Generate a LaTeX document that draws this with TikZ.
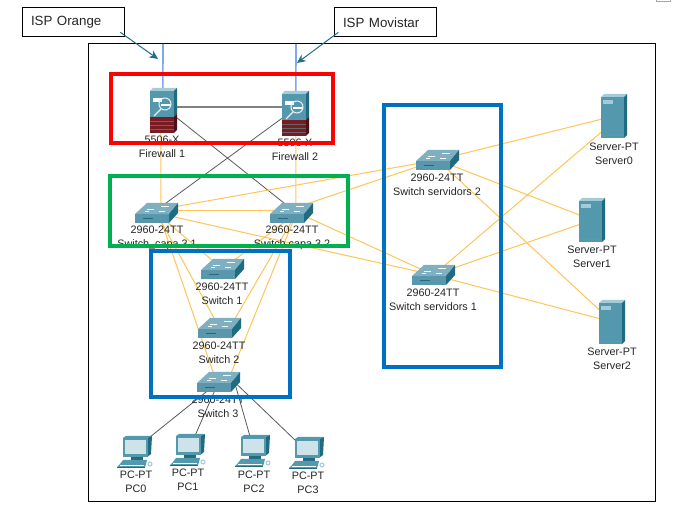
\documentclass[tikz,border=0pt]{standalone}
\usepackage{fontspec}
\setmainfont{Liberation Sans}
\usetikzlibrary{arrows.meta}
\definecolor{swfront}{HTML}{5B97AC}
\definecolor{swtop}{HTML}{7FB0C2}
\definecolor{swside}{HTML}{1F6B82}
\definecolor{srvfront}{HTML}{5498AE}
\definecolor{srvtop}{HTML}{A5CBD8}
\definecolor{brick}{HTML}{7A1A22}
\definecolor{brickside}{HTML}{4F0F16}
\definecolor{orangelink}{HTML}{FFC555}
\definecolor{greylink}{HTML}{5A5A5A}
\definecolor{bluelink}{HTML}{7FA8F0}
\definecolor{arrowblue}{HTML}{1F6E8C}
\definecolor{frred}{HTML}{FF0000}
\definecolor{frgreen}{HTML}{00B050}
\definecolor{frblue}{HTML}{0070C0}
\tikzset{
  every node/.style={inner sep=0pt,outer sep=0pt},
  lab/.style={font=\fontsize{8.1pt}{9pt}\selectfont,text=black!85,align=center},
  isp/.style={draw=black,line width=0.75pt,fill=white,minimum height=21.5pt,text width=77pt,align=left,font=\fontsize{10pt}{12pt}\selectfont,text=black!85},
  swbox/.style={minimum width=32.25pt,minimum height=15pt},
  fwbox/.style={minimum width=20pt,minimum height=33.75pt},
  srvbox/.style={minimum width=20pt,minimum height=33pt},
  pcbox/.style={minimum width=28.5pt,minimum height=23.25pt},
  olink/.style={draw=orangelink,line width=0.75pt},
  dlink/.style={draw=greylink,line width=0.6pt},
  frame/.style={draw,line width=3pt},
  callout/.style={draw=arrowblue,line width=0.75pt,-{Stealth[length=6.5pt,width=6pt]}},
  swicon/.pic={
    \fill[swfront] (0,11) rectangle (34,20);
    \fill[swtop] (0,11) -- (12,0) -- (43,0) -- (34,11) -- cycle;
    \fill[swside] (34,11) -- (43,0) -- (43,10) -- (34,20) -- cycle;
    \draw[white,line width=0.5pt] (12,6) -- (19,6) (26,3) -- (34,3) (10,8) -- (14,8) (24,8) -- (30,8);
    \draw[swside,line width=0.4pt] (8,15) -- (18,15);
  },
  fwicon/.pic={
    \fill[srvfront] (0,3) rectangle (24,29);
    \fill[srvtop] (0,3) -- (3,0) -- (27,0) -- (24,3) -- cycle;
    \fill[swside] (24,3) -- (27,0) -- (27,26) -- (24,29) -- cycle;
    \fill[brick] (0,29) rectangle (24,45);
    \fill[brickside] (24,29) -- (27,26) -- (27,42) -- (24,45) -- cycle;
    \draw[black!60,line width=0.3pt] (0,33) -- (24,33) (0,37) -- (24,37) (0,41) -- (24,41);
    \fill[white] (3,10) rectangle (12,14);
    \draw[white,line width=1.6pt] (11,17) -- (21,17);
    \draw[white!85!gray,line width=0.8pt] (15,16) circle (6);
    \draw[white!85!gray,line width=1pt] (11,21) -- (4,28);
  },
  srvicon/.pic={
    \fill[srvfront] (0,3) rectangle (23,44);
    \fill[srvtop] (0,3) -- (3,0) -- (26,0) -- (23,3) -- cycle;
    \fill[swside] (23,3) -- (26,0) -- (26,41) -- (23,44) -- cycle;
    \fill[srvtop] (2,6) rectangle (12,10);
    \draw[swside!70,line width=0.4pt] (0,41) -- (23,41);
  },
  pcicon/.pic={
    \fill[swside] (30,2) -- (35,0) -- (34,18) -- (30,21) -- cycle;
    \fill[srvfront] (6,2) -- (30,2) -- (35,0) -- (9,0) -- cycle;
    \fill[srvfront] (6,2) rectangle (31,21);
    \fill[srvtop!55] (8,4) rectangle (29,18);
    \fill[swside] (14,21) rectangle (26,24);
    \fill[srvfront] (6,24) -- (30,24) -- (29,28) -- (3,28) -- cycle;
    \fill[srvfront] (3,28) -- (29,28) -- (28,31) -- (0,31) -- cycle;
    \draw[white,line width=0.5pt] (3,29) -- (27,29);
    \draw[swside,line width=0.5pt] (0,31.5) -- (28,31.5);
    \draw[srvtop,line width=0.8pt] (33,28) circle (2);
  },
}
\newcommand{\lnk}[5][olink]{\draw[#1] ([shift={(#3)}]#2.center) -- ([shift={(#5)}]#4.center);}
\begin{document}
\begin{tikzpicture}[x=0.75pt,y=-0.75pt]
\useasboundingbox (0,0) rectangle (696,523);
\fill[white] (0,0) rectangle (696,523);
% sliver of a box at the top edge
\draw[black!35,line width=0.75pt] (656.5,-4) rectangle (670.5,1.5);
% frame
\node[draw=black,line width=0.75pt,minimum width=425.25pt,minimum height=343.5pt,anchor=north west] (outer) at (88,44) {};
% devices (geometry holders)
\node[fwbox,anchor=north west] (f1) at (150,88) {};
\node[fwbox,anchor=north west] (f2) at (282,91) {};
\node[swbox,anchor=north west] (s31) at (135,203) {};
\node[swbox,anchor=north west] (s32) at (270,203) {};
\node[swbox,anchor=north west] (s1) at (201,259) {};
\node[swbox,anchor=north west] (s2) at (198,318) {};
\node[swbox,anchor=north west] (s3) at (197,372) {};
\node[swbox,anchor=north west] (ss2) at (416,150) {};
\node[swbox,anchor=north west] (ss1) at (412,265) {};
\node[srvbox,anchor=north west] (sv0) at (601,94) {};
\node[srvbox,anchor=north west] (sv1) at (579,198) {};
\node[srvbox,anchor=north west] (sv2) at (599,300) {};
\node[pcbox,anchor=north west] (pc0) at (117,436) {};
\node[pcbox,anchor=north west] (pc1) at (170,434) {};
\node[pcbox,anchor=north west] (pc2) at (235,435) {};
\node[pcbox,anchor=north west] (pc3) at (289,437) {};
\coordinate (wan1) at (163,44);
\coordinate (wan2) at (296,44);
% links
\draw[draw=bluelink,line width=1.2pt] (wan1) -- ([shift={(-0.5,-3)}]f1.center);
\draw[draw=bluelink,line width=1.2pt] (wan2) -- ([shift={(0.5,-3)}]f2.center);
\draw[draw=gray,line width=1.3pt] ([shift={(0,-3.5)}]f1.center) -- ([shift={(0,-6.5)}]f2.center);
\lnk[dlink]{f1}{0,-3.5}{s32}{0,-4}
\lnk[dlink]{f2}{0,-5}{s31}{0,-3}
\lnk{f1}{-2.5,0}{s31}{4.5,0}
\lnk{f2}{0.5,0}{s32}{4.5,0}
\lnk{s31}{0,-2}{s32}{0,-2}
\lnk{s31}{0,-3}{ss2}{0,0}
\lnk{s32}{0,-4}{ss2}{0,0}
\lnk{s31}{0,0}{ss1}{0,0}
\lnk{s32}{0,-3}{ss1}{0,0}
\lnk{s31}{0,0}{s1}{0,0}
\lnk{s31}{0,0}{s2}{0,0}
\lnk{s31}{2,0}{s3}{-2,0}
\lnk{s32}{5,0}{s1}{0,0}
\lnk{s32}{5,0}{s2}{10,0}
\lnk{s32}{5,0}{s3}{9,0}
\lnk{ss2}{0,0}{sv0}{0,0}
\lnk{ss2}{0,0}{sv1}{0,0}
\lnk{ss2}{0,0}{sv2}{0,0}
\lnk{ss1}{0,0}{sv0}{0,5}
\lnk{ss1}{0,0}{sv1}{0,0}
\lnk{ss1}{0,0}{sv2}{0,0}
\lnk[dlink]{s3}{0,0}{pc0}{-4,0}
\lnk[dlink]{s3}{0,0}{pc1}{0,0}
\lnk[dlink]{s3}{16,0}{pc2}{0,0}
\lnk[dlink]{s3}{16,0}{pc3}{0,0}
% icons
\foreach \n in {s31,s32,s1,s2,s3,ss2,ss1} \pic at (\n.north west) {swicon};
\foreach \n in {f1,f2} \pic at (\n.north west) {fwicon};
\foreach \n in {sv0,sv1,sv2} \pic at (\n.north west) {srvicon};
\foreach \n in {pc0,pc1,pc2,pc3} \pic at (\n.north west) {pcicon};
% labels
\node[lab] (lf1) at (162,147) {5506-X\\[1.5pt]Firewall 1};
\node[lab] (lf2) at (295,150) {5506-X\\[1.5pt]Firewall 2};
\node[lab] (l31) at (157,238) {2960-24TT\\[1.5pt]Switch\_capa 3.1};
\node[lab] (l32) at (292,238) {2960-24TT\\[1.5pt]Switch capa 3.2};
\node[lab] (l1) at (222,294) {2960-24TT\\[1.5pt]Switch 1};
\node[lab] (l2) at (219,353) {2960-24TT\\[1.5pt]Switch 2};
\node[lab] (l3) at (218,407) {2960-24TT\\[1.5pt]Switch 3};
\node[lab] (lss2) at (437,185) {2960-24TT\\[1.5pt]Switch servidors 2};
\node[lab] (lss1) at (433,300) {2960-24TT\\[1.5pt]Switch servidors 1};
\node[lab] (lsv0) at (614,154) {Server-PT\\[1.5pt]Server0};
\node[lab] (lsv1) at (592,257) {Server-PT\\[1.5pt]Server1};
\node[lab] (lsv2) at (612,359) {Server-PT\\[1.5pt]Server2};
\node[lab] (lpc0) at (136,482) {PC-PT\\[1.5pt]PC0};
\node[lab] (lpc1) at (188,480) {PC-PT\\[1.5pt]PC1};
\node[lab] (lpc2) at (254,482) {PC-PT\\[1.5pt]PC2};
\node[lab] (lpc3) at (308,483) {PC-PT\\[1.5pt]PC3};
% coloured frames
\node[frame,draw=frred,minimum width=166.5pt,minimum height=51.75pt,anchor=north west] (fr) at (111,74) {};
\node[frame,draw=frgreen,minimum width=178.5pt,minimum height=52.5pt,anchor=north west] (fg) at (110,176) {};
\node[frame,draw=frblue,minimum width=104.25pt,minimum height=109.5pt,anchor=north west] (fb1) at (151,251) {};
\node[frame,draw=frblue,minimum width=87.75pt,minimum height=196.5pt,anchor=north west] (fb2) at (384,105) {};
% callouts
\node[isp,anchor=north west] (ispo) at (22,8) {\hspace*{6.75pt}ISP Orange};
\node[isp,anchor=north west] (ispm) at (334,8) {\hspace*{6.75pt}ISP Movistar};
\coordinate (tipo) at (158,59);
\coordinate (tipm) at (297,63);
\draw[callout] ([shift={(47,10)}]ispo.center) -- (tipo);
\draw[callout] ([shift={(-47,10)}]ispm.center) -- (tipm);
\end{tikzpicture}
\end{document}
